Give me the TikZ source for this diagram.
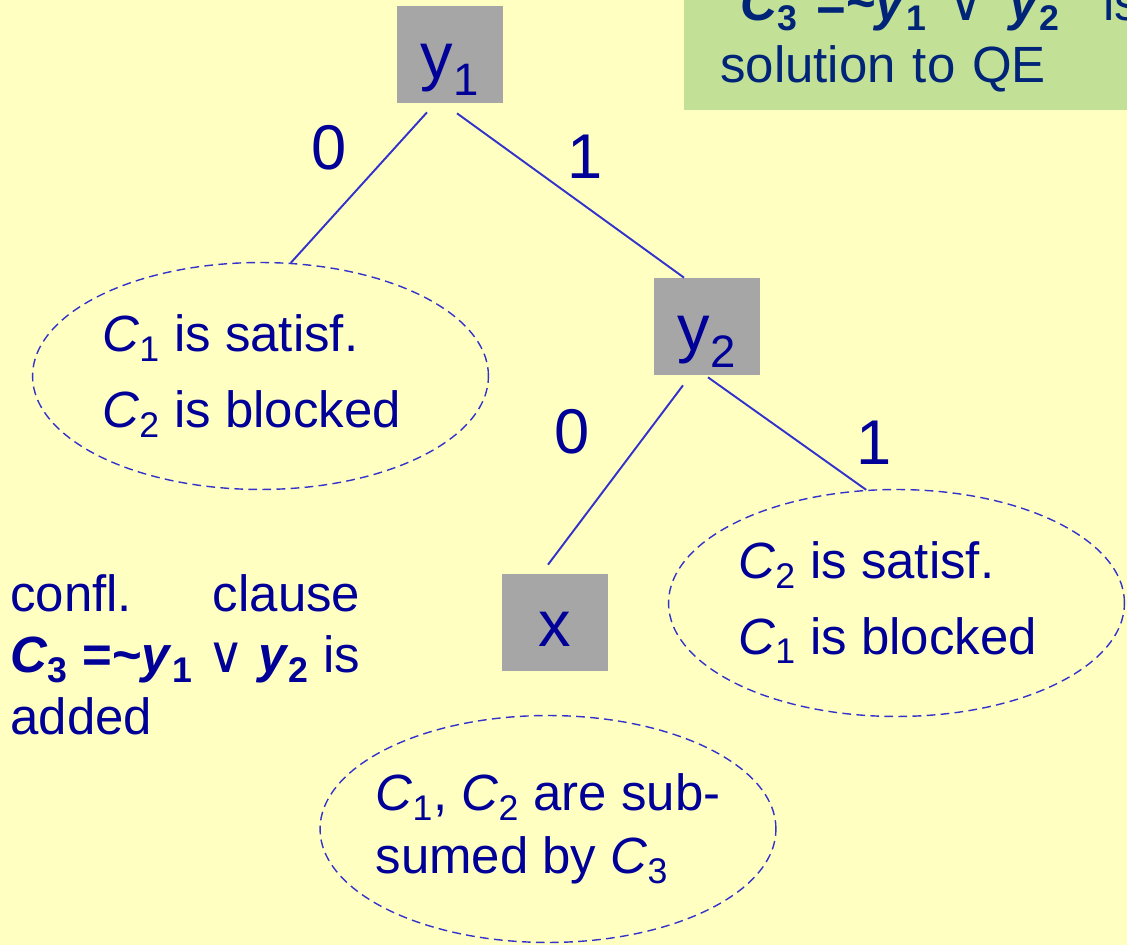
\documentclass[tikz,border=0pt]{standalone}
\usepackage{fontspec}
\setmainfont{Liberation Sans}
\newfontfamily\symfont{DejaVu Sans}
\usepackage{tikz}
\usetikzlibrary{shapes.geometric}

\definecolor{paper}{RGB}{255,255,194}
\definecolor{ink}{RGB}{0,0,153}
\definecolor{wire}{RGB}{51,51,204}
\definecolor{varfill}{RGB}{166,166,166}
\definecolor{notefill}{RGB}{194,224,150}
\definecolor{noteink}{RGB}{0,36,120}

\newcommand{\Cl}[1]{\textit{C}\textsubscript{#1}}
\newcommand{\orsym}{{\symfont ∨}}
\newcommand{\conflcl}{\textbf{\textit{C}\textsubscript{3} =\textasciitilde\textit{y}\textsubscript{1}} \orsym{} \textbf{\textit{y}\textsubscript{2}} is}
\newcommand{\lft}{\hspace*{-0.36cm}}

\begin{document}
\begin{tikzpicture}[x=0.02cm, y=-0.02cm,
  every node/.append style={text=ink},
  var/.style={fill=varfill, minimum width=2.12cm, minimum height=1.94cm, inner sep=0pt, text height=0.98cm, text depth=0pt, font=\fontsize{37}{44}\selectfont},
  cls/.style={ellipse, draw=wire, dash pattern=on 5pt off 3pt, line width=0.8pt, minimum width=9.12cm, minimum height=4.54cm, inner xsep=-0.4cm, inner ysep=0pt, align=left, font=\fontsize{29}{43}\selectfont},
  lbl/.style={inner sep=0pt, font=\fontsize{36}{40}\selectfont},
  body/.style={inner sep=0pt, align=left, font=\fontsize{29}{35}\selectfont},
  note/.style={body, fill=notefill, text=noteink, text width=9cm, inner xsep=0.72cm, inner ysep=0.36cm},
  edge/.style={draw=wire, line width=1.1pt}]
\fill[paper] (0,0) rectangle (1127,945);
\useasboundingbox (0,0) rectangle (1127,945);
\clip (0,0) rectangle (1127,945);

% result box, cut by the page edge
\node[note, anchor=south west] (qe) at (684,110) {\hspace*{0.4cm}\textbf{\textit{C}\textsubscript{3}\hspace{0.36cm}=\textasciitilde\textit{y}\textsubscript{1}}\hspace{0.4cm}\orsym\hspace{0.5cm}\textbf{\textit{y}\textsubscript{2}}\hspace{0.85cm}is\\solution to QE};

% search tree
\node[var] (y1) at (450,54.5) {y\textsubscript{1}};
\node[var] (y2) at (707,326.5) {y\textsubscript{2}};
\node[var] (x) at (555,622.5) {x};

\node[cls] (c1) at (260.5,376) {\lft\Cl{1} is satisf.\\\lft\Cl{2} is blocked};
\node[cls] (c2) at (896.5,603) {\lft\Cl{2} is satisf.\\\lft\Cl{1} is blocked};
\node[cls, font=\fontsize{29}{36}\selectfont] (c3) at (548,829) {\Cl{1}, \Cl{2} are sub-\\sumed by \Cl{3}};

\draw[edge] ([xshift=-0.46cm,yshift=-0.18cm]y1.south) -- (c1.75);
\draw[edge] ([xshift=0.14cm,yshift=-0.2cm]y1.south) -- ([xshift=-0.46cm]y2.north);
\draw[edge] ([xshift=-0.48cm,yshift=-0.2cm]y2.south) -- ([xshift=-0.14cm,yshift=0.18cm]x.north);
\draw[edge] ([xshift=0.02cm,yshift=-0.04cm]y2.south) -- (c2.105);

\node[lbl] (l10) at (329,148) {0};
\node[lbl] (l11) at (585,157) {1};
\node[lbl] (l20) at (572,432) {0};
\node[lbl] (l21) at (874,443) {1};

% learnt clause
\node[body, anchor=north west] (conf) at (10,574) {\makebox[7cm][s]{confl.\hfill clause}\\\makebox[7cm][s]{\conflcl}\\added};
\end{tikzpicture}
\end{document}
